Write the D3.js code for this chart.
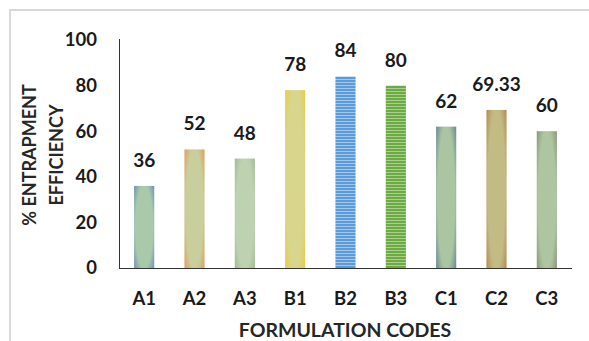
<!DOCTYPE html>
<html>
<head>
<meta charset="utf-8">
<script src="https://cdn.jsdelivr.net/npm/d3@7"></script>
<style>
  html, body { margin: 0; padding: 0; background: #fff; }
  svg { display: block; font-family: Lato, "Open Sans", sans-serif; }
</style>
</head>
<body>
<svg id="chart" width="589" height="341"></svg>
<script>
// Formulation codes and their entrapment efficiency (%)
const categories = ["A1", "A2", "A3", "B1", "B2", "B3", "C1", "C2", "C3"];
const efficiency = [36, 52, 48, 78, 84, 80, 62, 69.33, 60];
const yTicks = [0, 20, 40, 60, 80, 100];

// Bar fills: gradient bars (edge colour -> pale centre) and striped bars
const barFills = [
  { type: "grad", edge: "#5b84b6", mid: "#aac9ab" },
  { type: "grad", edge: "#e6914c", mid: "#c8cf9c" },
  { type: "grad", edge: "#9db292", mid: "#bdd2b1" },
  { type: "grad", edge: "#f0c930", mid: "#d7d68c" },
  { type: "stripe", base: "#5d9bd8", line: "#a4c8ea" },
  { type: "stripe", base: "#6daa45", line: "#a9d18c" },
  { type: "grad", edge: "#587893", mid: "#a9c5a2" },
  { type: "grad", edge: "#b07d45", mid: "#c2bb84" },
  { type: "grad", edge: "#7c8b71", mid: "#adc69f" }
];

const svg = d3.select("#chart");
const defs = svg.append("defs");

barFills.forEach((f, i) => {
  if (f.type === "grad") {
    const g = defs.append("radialGradient")
      .attr("id", "fill" + i)
      .attr("cx", 0.5).attr("cy", 0.5).attr("r", 0.72)
      .attr("gradientTransform", "translate(0.5,0.5) scale(1,1.15) translate(-0.5,-0.5)");
    g.append("stop").attr("offset", "0%").attr("stop-color", f.mid);
    g.append("stop").attr("offset", "60%").attr("stop-color", f.mid);
    g.append("stop").attr("offset", "100%").attr("stop-color", f.edge);
  } else {
    const p = defs.append("pattern")
      .attr("id", "fill" + i)
      .attr("patternUnits", "userSpaceOnUse")
      .attr("width", 4).attr("height", 3);
    p.append("rect").attr("width", 4).attr("height", 3).attr("fill", f.base);
    p.append("rect").attr("y", 1).attr("width", 4).attr("height", 1).attr("fill", f.line);
  }
});

// Outer frame (top and left edges visible)
svg.append("path")
  .attr("d", "M10,341 V10 H589")
  .attr("fill", "none")
  .attr("stroke", "#d9d9d9")
  .attr("stroke-width", 2);

const plot = { left: 119, right: 572, top: 40, bottom: 268 };

const x = d3.scaleBand()
  .domain(categories)
  .range([plot.left, plot.right])
  .paddingInner(0.6)
  .paddingOuter(0.3);

const y = d3.scaleLinear()
  .domain([0, 100])
  .range([plot.bottom, plot.top]);

// Bars
svg.append("g")
  .selectAll("rect")
  .data(efficiency)
  .join("rect")
  .attr("x", (d, i) => x(categories[i]))
  .attr("y", d => y(d))
  .attr("width", x.bandwidth())
  .attr("height", d => y(0) - y(d))
  .attr("fill", (d, i) => `url(#fill${i})`);

// Value labels
svg.append("g")
  .selectAll("text")
  .data(efficiency)
  .join("text")
  .attr("x", (d, i) => x(categories[i]) + x.bandwidth() / 2)
  .attr("y", d => y(d) - 19)
  .attr("text-anchor", "middle")
  .attr("font-size", 19)
  .attr("font-weight", 700)
  .attr("fill", "#1a1a1a")
  .text(d => d);

// Y axis
const yAxis = svg.append("g")
  .attr("transform", `translate(${plot.left},0)`)
  .call(d3.axisLeft(y).tickValues(yTicks).tickSize(0).tickPadding(22));
yAxis.select(".domain").attr("stroke", "#333").attr("stroke-width", 1)
  .attr("d", `M0.5,${plot.top - 1}V${plot.bottom}`);
yAxis.selectAll("text")
  .attr("font-size", 18.5).attr("font-weight", 700).attr("fill", "#1a1a1a")
  .attr("font-family", "Lato, 'Open Sans', sans-serif");

// X axis
const xAxis = svg.append("g")
  .attr("transform", `translate(0,${plot.bottom})`)
  .call(d3.axisBottom(x).tickSize(0).tickPadding(24));
xAxis.select(".domain").attr("stroke", "#333").attr("stroke-width", 1)
  .attr("d", `M${plot.left},0.5H${plot.right}`);
xAxis.selectAll("text")
  .attr("font-size", 18.5).attr("font-weight", 700).attr("fill", "#1a1a1a")
  .attr("font-family", "Lato, 'Open Sans', sans-serif");

// Axis titles
svg.append("text")
  .attr("x", 345)
  .attr("y", 337)
  .attr("text-anchor", "middle")
  .attr("font-size", 19.5)
  .attr("font-weight", 700)
  .attr("fill", "#262626")
  .text("FORMULATION CODES");

const yTitle = svg.append("text")
  .attr("transform", "translate(36,155) rotate(-90)")
  .attr("text-anchor", "middle")
  .attr("font-size", 18)
  .attr("font-weight", 700)
  .attr("fill", "#262626");
yTitle.append("tspan").attr("x", 0).attr("dy", 0).text("% ENTRAPMENT");
yTitle.append("tspan").attr("x", 0).attr("dy", 27).text("EFFICIENCY");
</script>
</body>
</html>
